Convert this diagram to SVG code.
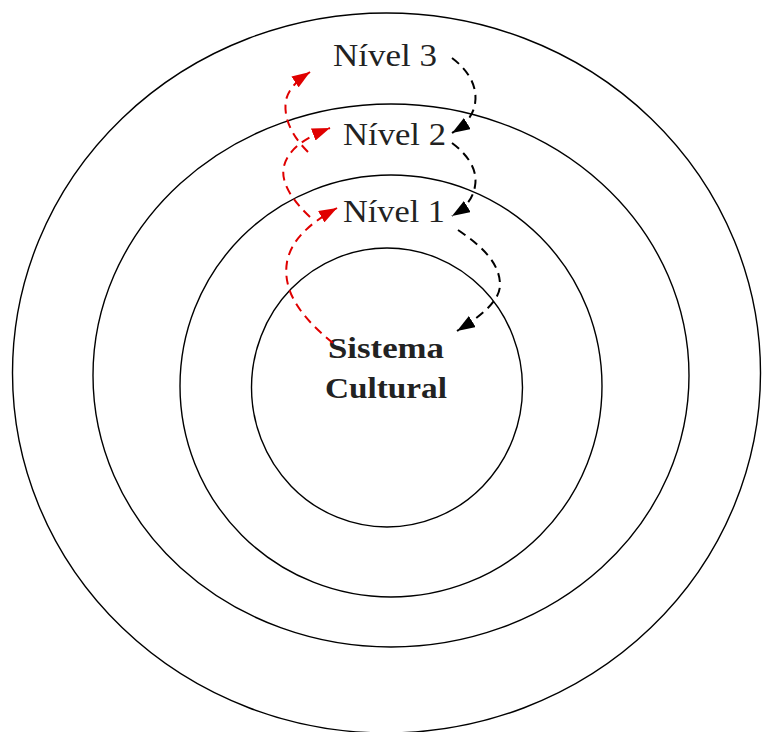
<svg xmlns="http://www.w3.org/2000/svg" width="762" height="732" viewBox="0 0 762 732">
<defs>
<style>
.ring{fill:none;stroke:#000;stroke-width:1.4}
.lbl{font-family:"Liberation Serif","DejaVu Serif",serif;font-size:32px;fill:#222}
.core{font-family:"Liberation Serif","DejaVu Serif",serif;font-size:29px;font-weight:bold;fill:#222}
.up{fill:none;stroke:#e00000;stroke-width:2;stroke-dasharray:9 6}
.down{fill:none;stroke:#000;stroke-width:2;stroke-dasharray:9 6}
</style>
<marker id="ar" viewBox="0 0 18 13" refX="18" refY="6.5" markerWidth="18" markerHeight="13" markerUnits="userSpaceOnUse" orient="auto"><path d="M0,0 L18,6.5 L0,13 z" fill="#e00000"/></marker>
<marker id="ab" viewBox="0 0 18 13" refX="18" refY="6.5" markerWidth="18" markerHeight="13" markerUnits="userSpaceOnUse" orient="auto"><path d="M0,0 L18,6.5 L0,13 z" fill="#000"/></marker>
</defs>
<rect width="762" height="732" fill="#fff"/>
<g id="ring-nivel3"><ellipse class="ring" cx="386.5" cy="373" rx="374" ry="360"/></g>
<g id="ring-nivel2"><ellipse class="ring" cx="391" cy="375.5" rx="298" ry="271.5"/></g>
<g id="ring-nivel1"><ellipse class="ring" cx="391" cy="386" rx="211" ry="211"/></g>
<g id="sistema-cultural">
<ellipse class="ring" cx="387" cy="387.5" rx="135.5" ry="139.5"/>
<text class="core" x="328" y="358" textLength="116" lengthAdjust="spacingAndGlyphs">Sistema</text>
<text class="core" x="325" y="398" textLength="122" lengthAdjust="spacingAndGlyphs">Cultural</text>
</g>
<g id="nivel3"><text class="lbl" x="333" y="66" textLength="104" lengthAdjust="spacingAndGlyphs">Nível 3</text></g>
<g id="nivel2"><text class="lbl" x="343" y="145" textLength="103" lengthAdjust="spacingAndGlyphs">Nível 2</text></g>
<g id="nivel1"><text class="lbl" x="343" y="222" textLength="102" lengthAdjust="spacingAndGlyphs">Nível 1</text></g>
<g id="connectors">
<path class="up" marker-end="url(#ar)" d="M333,343 C302,318 282,292 287,262 C291,240 310,223 337,208"/>
<path class="up" marker-end="url(#ar)" d="M310,217 C292,200 280,182 284,166 C288,150 304,138 330,128"/>
<path class="up" marker-end="url(#ar)" d="M308,152 C292,136 283,118 286,100 C289,88 298,80 310,72"/>
<path class="down" marker-end="url(#ab)" d="M452,58 C468,70 478,86 475,104 C473,116 465,125 452,133"/>
<path class="down" marker-end="url(#ab)" d="M452,143 C468,155 478,170 475,186 C473,199 465,208 452,216"/>
<path class="down" marker-end="url(#ab)" d="M458,230 C480,245 500,262 500,285 C500,302 478,318 457,331"/>
</g>
</svg>
